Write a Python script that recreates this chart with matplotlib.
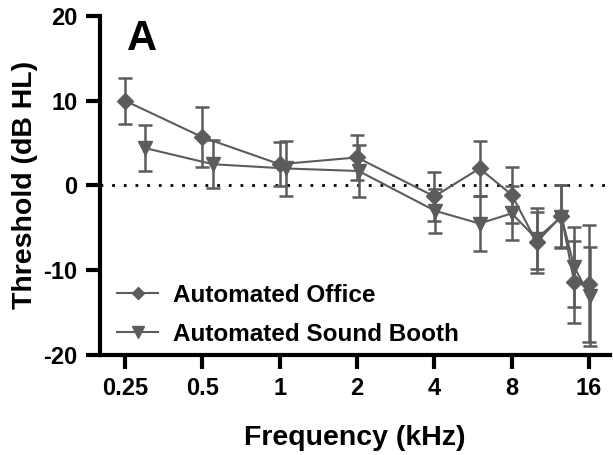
import numpy as np
import matplotlib.pyplot as plt
from matplotlib.ticker import FixedLocator, NullLocator
from matplotlib.lines import Line2D

plt.rcParams['font.family'] = ['Liberation Sans', 'DejaVu Sans']
plt.rcParams['font.weight'] = 'bold'
plt.rcParams['axes.unicode_minus'] = False

# Automated Office (diamonds)
freq_office = [0.25, 0.5, 1, 2, 4, 6, 8, 10, 12.5, 14, 16]
thr_office = [10.0, 5.7, 2.5, 3.3, -1.3, 2.0, -1.1, -6.7, -3.6, -11.4, -11.6]
err_office = [2.7, 3.5, 2.6, 2.7, 2.9, 3.2, 3.3, 3.6, 3.7, 4.8, 6.9]

# Automated Sound Booth (triangles)
freq_booth = [0.3, 0.55, 1.06, 2.03, 4.03, 6, 8, 10, 12.5, 14, 16.1]
thr_booth = [4.4, 2.5, 2.0, 1.7, -3.0, -4.5, -3.3, -6.3, -3.7, -9.6, -13.1]
err_booth = [2.7, 2.8, 3.2, 3.1, 2.6, 3.2, 3.2, 3.6, 3.7, 4.7, 5.8]

xticks = [0.25, 0.5, 1, 2, 4, 8, 16]
xticklabels = ['0.25', '0.5', '1', '2', '4', '8', '16']

gris = '#5c5c5c'

fig = plt.figure(figsize=(6.13, 4.55), dpi=100)
ax = fig.add_axes([0.163, 0.22, 0.832, 0.745])

ax.axhline(0, color='black', linestyle=(0, (1, 3.2)), linewidth=2, zorder=1)

ax.errorbar(freq_office, thr_office, yerr=err_office, color=gris, marker='D',
            markersize=8, linewidth=1.5, elinewidth=1.8, capsize=5, capthick=1.8,
            zorder=3)
ax.errorbar(freq_booth, thr_booth, yerr=err_booth, color=gris, marker='v',
            markersize=10, linewidth=1.5, elinewidth=1.8, capsize=5, capthick=1.8,
            zorder=3)

ax.set_xscale('log', base=2)
ax.set_xlim(0.25 * 2 ** -0.323, 16 * 2 ** 0.27)
ax.set_ylim(-20, 20)
ax.xaxis.set_major_locator(FixedLocator(xticks))
ax.xaxis.set_minor_locator(NullLocator())
ax.set_xticklabels(xticklabels)
ax.set_yticks([-20, -10, 0, 10, 20])

for s in ['top', 'right']:
    ax.spines[s].set_visible(False)
for s in ['left', 'bottom']:
    ax.spines[s].set_linewidth(3)
ax.tick_params(width=3, length=10, labelsize=17, pad=6)
for lab in ax.get_xticklabels() + ax.get_yticklabels():
    lab.set_fontweight('bold')

ax.set_xlabel('Frequency (kHz)', fontsize=20.5, fontweight='bold', labelpad=18)
ax.set_ylabel('Threshold (dB HL)', fontsize=20.5, fontweight='bold', labelpad=4)

ax.text(0.053, 0.99, 'A', transform=ax.transAxes, fontsize=30,
        fontweight='bold', va='top', ha='left')

manijas = [
    Line2D([], [], color=gris, marker='D', markersize=6, linewidth=1.5),
    Line2D([], [], color=gris, marker='v', markersize=8, linewidth=1.5),
]
leg = ax.legend(manijas, ['Automated Office', 'Automated Sound Booth'],
                loc='lower left', frameon=False, fontsize=17.5,
                handlelength=1.7, handletextpad=0.6, borderaxespad=0.1,
                labelspacing=0.65, bbox_to_anchor=(0.01, -0.009))
for t in leg.get_texts():
    t.set_fontweight('bold')

plt.savefig('out.png', dpi=100)
